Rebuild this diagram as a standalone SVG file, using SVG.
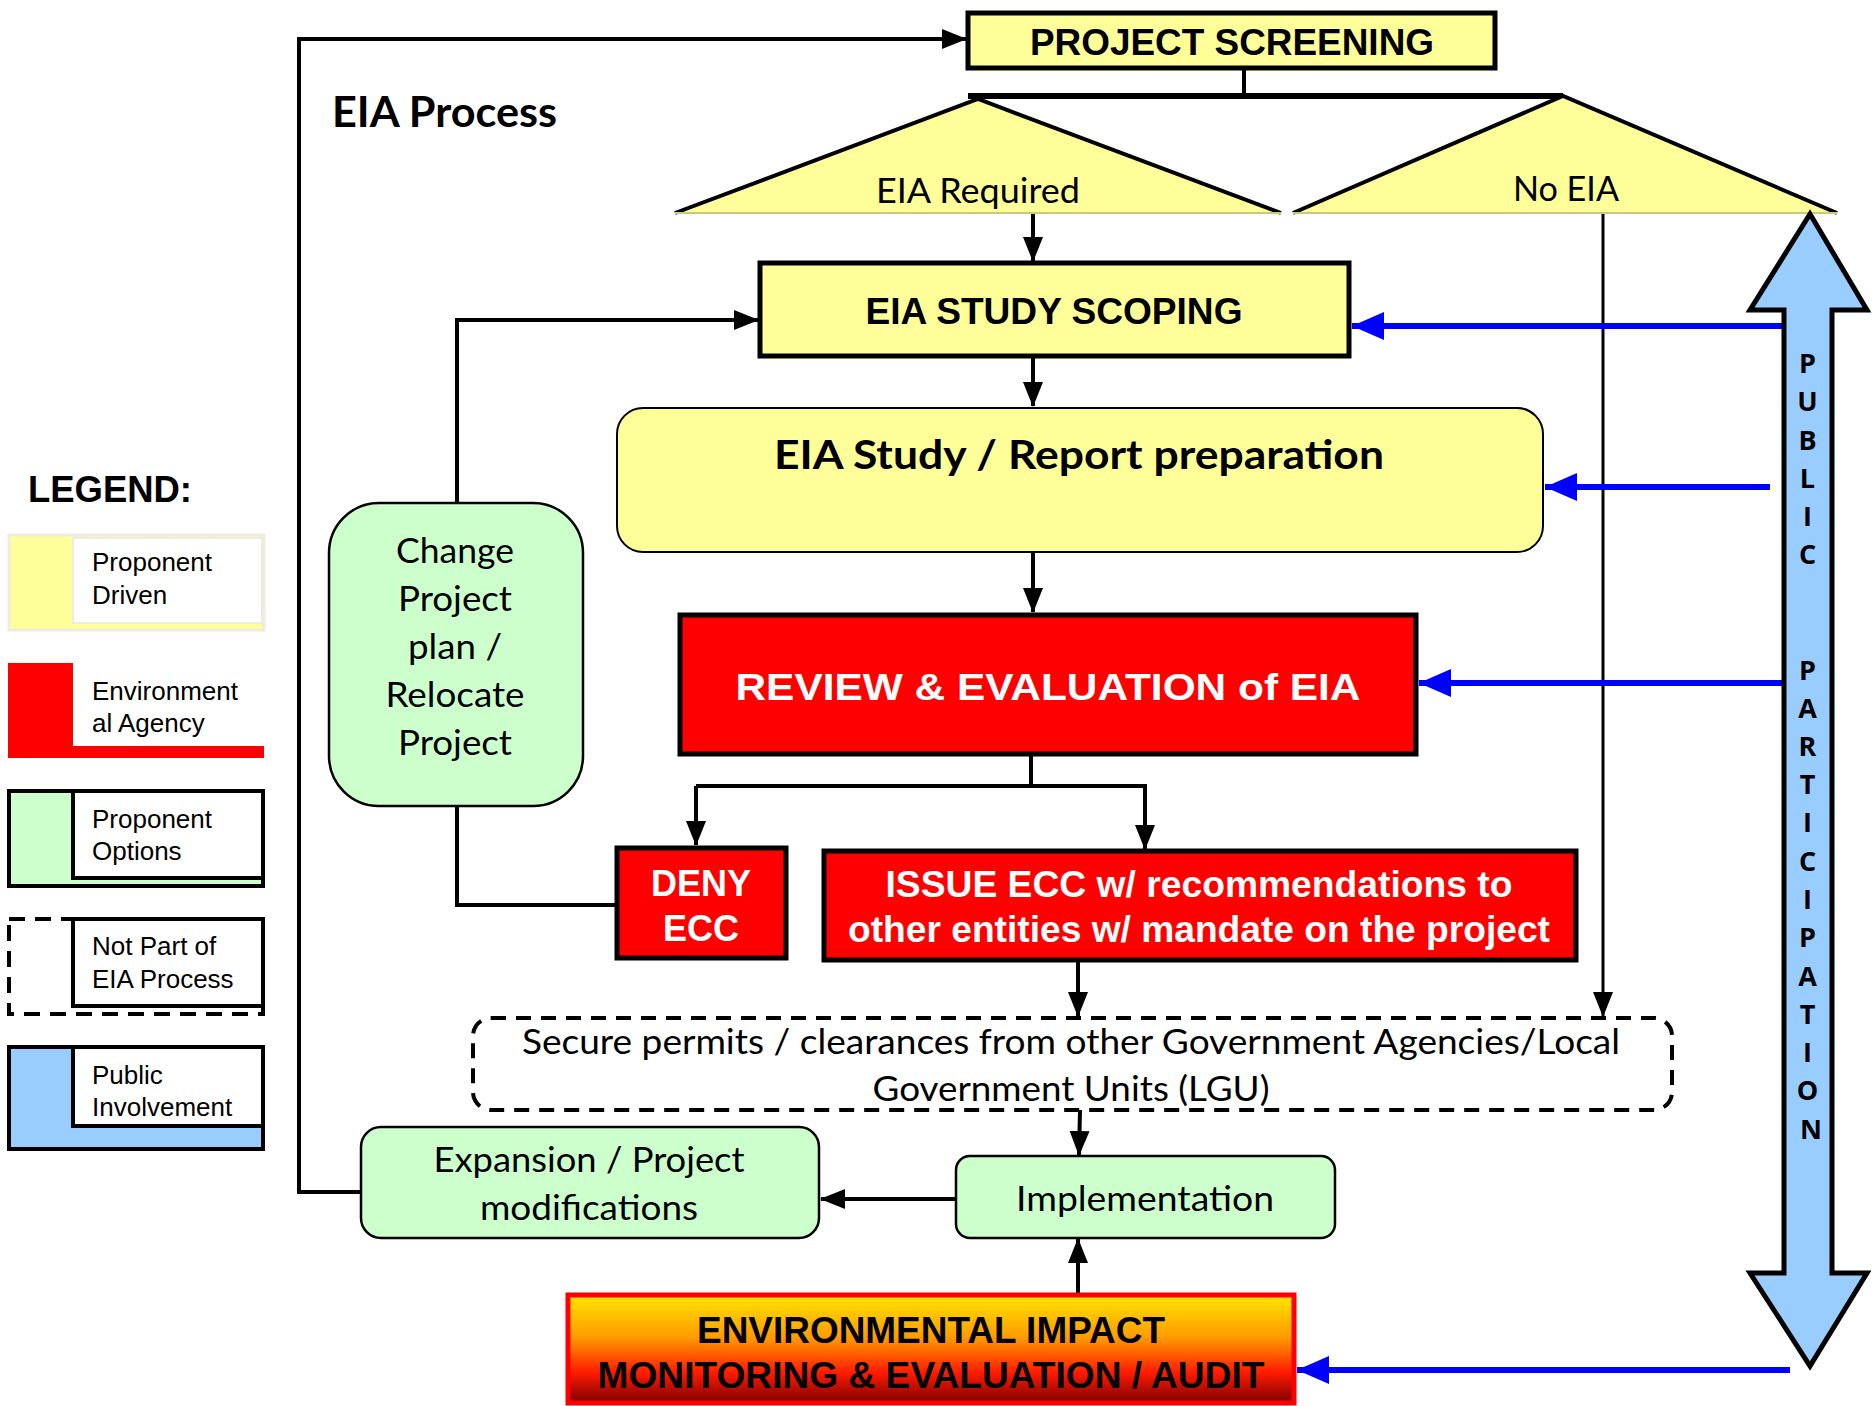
<svg xmlns="http://www.w3.org/2000/svg" width="1874" height="1406" viewBox="0 0 1874 1406">
<defs>
<style>
.ab{font-family:"Liberation Sans",Arial,sans-serif;font-weight:bold;font-size:36px;text-anchor:middle}
.wt{fill:#fff}
.cal{font-family:Lato,"Open Sans",sans-serif;font-size:35px;text-anchor:middle;fill:#000}
.calb{font-family:Lato,"Open Sans",sans-serif;font-weight:bold;fill:#000}
.lg{font-family:"Liberation Sans",Arial,sans-serif;font-size:26px;fill:#000}
.pp{font-family:"Open Sans","Noto Sans",sans-serif;font-weight:bold;font-size:27px;text-anchor:middle;fill:#000}
.conn{fill:none;stroke:#000;stroke-width:4}
.blue{fill:none;stroke:#0000FF;stroke-width:6}
.yel{fill:#FFFF99}
.grn{fill:#CCFFCC;stroke:#000;stroke-width:2.5}
.red{fill:#FF0000;stroke:#000;stroke-width:5}
</style>
<marker id="ah" markerUnits="userSpaceOnUse" markerWidth="26" markerHeight="22" refX="24" refY="11" orient="auto">
<path d="M0,1 L25,11 L0,21 z" fill="#000"/>
</marker>
<marker id="bh" markerUnits="userSpaceOnUse" markerWidth="34" markerHeight="32" refX="32" refY="16" orient="auto">
<path d="M0,2 L32,16 L0,30 z" fill="#0000FF"/>
</marker>
<linearGradient id="envg" x1="0" y1="0" x2="0" y2="1">
<stop offset="0" stop-color="#FFE600"/>
<stop offset="0.4" stop-color="#FF9900"/>
<stop offset="0.72" stop-color="#FF1A00"/>
<stop offset="1" stop-color="#7A0000"/>
</linearGradient>
</defs>
<rect width="1874" height="1406" fill="#fff"/>

<text x="332" y="127" class="calb" font-size="42" textLength="225" lengthAdjust="spacingAndGlyphs">EIA Process</text>

<!-- Legend -->
<g id="legend">
<text x="28" y="502" class="ab" style="text-anchor:start" textLength="164" lengthAdjust="spacingAndGlyphs">LEGEND:</text>
<g id="leg-proponent-driven">
<rect x="9" y="535" width="255" height="95" fill="#FFFF99" stroke="#EEECE1" stroke-width="3"/>
<rect x="73" y="538" width="189" height="85" fill="#fff" stroke="#EEECE1" stroke-width="2"/>
<text class="lg" x="92" y="571">Proponent</text>
<text class="lg" x="92" y="604">Driven</text>
</g>
<g id="leg-env-agency">
<rect x="8" y="663" width="256" height="95" fill="#FF0000"/>
<rect x="73" y="663" width="191" height="83" fill="#fff"/>
<text class="lg" x="92" y="700">Environment</text>
<text class="lg" x="92" y="732">al Agency</text>
</g>
<g id="leg-proponent-options">
<rect x="9" y="791" width="254" height="95" fill="#CCFFCC" stroke="#000" stroke-width="4"/>
<rect x="73" y="791" width="190" height="87" fill="#fff" stroke="#000" stroke-width="4"/>
<text class="lg" x="92" y="828">Proponent</text>
<text class="lg" x="92" y="860">Options</text>
</g>
<g id="leg-not-part">
<rect x="9" y="919" width="254" height="95" fill="#fff" stroke="#000" stroke-width="4" stroke-dasharray="16 10"/>
<rect x="73" y="919" width="190" height="87" fill="#fff" stroke="#000" stroke-width="4"/>
<text class="lg" x="92" y="955">Not Part of</text>
<text class="lg" x="92" y="988">EIA Process</text>
</g>
<g id="leg-public">
<rect x="9" y="1047" width="254" height="102" fill="#99CCFF" stroke="#000" stroke-width="4"/>
<rect x="73" y="1047" width="190" height="79" fill="#fff" stroke="#000" stroke-width="4"/>
<text class="lg" x="92" y="1084">Public</text>
<text class="lg" x="92" y="1116">Involvement</text>
</g>
</g>

<!-- Connectors -->
<g id="connectors">
<polyline class="conn" points="361,1192 299,1192 299,39 966,39" marker-end="url(#ah)"/>
<line class="conn" x1="1244" y1="68" x2="1244" y2="96"/>
<line x1="968" y1="96" x2="1563" y2="96" stroke="#000" stroke-width="6"/>
<line class="conn" x1="1033" y1="213" x2="1033" y2="261" marker-end="url(#ah)"/>
<line class="conn" x1="1033" y1="357" x2="1033" y2="406" marker-end="url(#ah)"/>
<line class="conn" x1="1033" y1="552" x2="1033" y2="612" marker-end="url(#ah)"/>
<line class="conn" x1="1031" y1="755" x2="1031" y2="786"/>
<line class="conn" x1="696" y1="786" x2="1147" y2="786"/>
<line class="conn" x1="696" y1="786" x2="696" y2="845" marker-end="url(#ah)"/>
<line class="conn" x1="1145" y1="784" x2="1145" y2="849" marker-end="url(#ah)"/>
<polyline class="conn" points="457,503 457,320 758,320" marker-end="url(#ah)"/>
<polyline class="conn" points="457,806 457,905 616,905"/>
<line x1="1603" y1="213" x2="1603" y2="1016" stroke="#000" stroke-width="3" marker-end="url(#ah)"/>
<line class="conn" x1="1078" y1="960" x2="1078" y2="1016" marker-end="url(#ah)"/>
<line class="conn" x1="1080" y1="1110" x2="1079" y2="1155" marker-end="url(#ah)"/>
<line class="conn" x1="956" y1="1199" x2="821" y2="1199" marker-end="url(#ah)"/>
<line class="conn" x1="1078" y1="1293" x2="1078" y2="1239" marker-end="url(#ah)"/>
<line class="blue" x1="1783" y1="326" x2="1352" y2="326" marker-end="url(#bh)"/>
<line class="blue" x1="1770" y1="487" x2="1545" y2="487" marker-end="url(#bh)"/>
<line class="blue" x1="1783" y1="683" x2="1419" y2="683" marker-end="url(#bh)"/>
<line class="blue" x1="1790" y1="1370" x2="1297" y2="1370" marker-end="url(#bh)"/>
</g>

<g id="project-screening">
<rect x="968" y="13" width="527" height="55" class="yel" stroke="#000" stroke-width="5"/>
<text class="ab" x="1232" y="55" textLength="404" lengthAdjust="spacingAndGlyphs">PROJECT SCREENING</text>
</g>

<g id="eia-required">
<path d="M675,213 L978,99 L1281,213" fill="#FFFF99" stroke="#000" stroke-width="4"/>
<line x1="675" y1="213" x2="1281" y2="213" stroke="#C8C880" stroke-width="2"/>
<text class="cal" x="978" y="203" font-size="33" textLength="204" lengthAdjust="spacingAndGlyphs">EIA Required</text>
</g>

<g id="no-eia">
<path d="M1293,213 L1563,96 L1837,213" fill="#FFFF99" stroke="#000" stroke-width="4"/>
<line x1="1293" y1="213" x2="1837" y2="213" stroke="#C8C880" stroke-width="2"/>
<text class="cal" x="1566" y="201" font-size="33" textLength="106" lengthAdjust="spacingAndGlyphs">No EIA</text>
</g>

<g id="eia-study-scoping">
<rect x="760" y="263" width="589" height="93" class="yel" stroke="#000" stroke-width="5"/>
<text class="ab" x="1054" y="324" textLength="377" lengthAdjust="spacingAndGlyphs">EIA STUDY SCOPING</text>
</g>

<g id="eia-study-report">
<rect x="617" y="408" width="926" height="144" rx="26" class="yel" stroke="#000" stroke-width="2"/>
<text class="calb" x="1079" y="469" font-size="40" text-anchor="middle" textLength="610" lengthAdjust="spacingAndGlyphs">EIA Study / Report preparation</text>
</g>

<g id="review-evaluation">
<rect x="680" y="615" width="736" height="139" class="red"/>
<text class="ab wt" x="1048" y="700" font-size="42" textLength="625" lengthAdjust="spacingAndGlyphs">REVIEW &amp; EVALUATION of EIA</text>
</g>

<g id="change-project">
<rect x="329" y="503" width="254" height="303" rx="50" class="grn"/>
<text class="cal" x="455" y="563" textLength="118" lengthAdjust="spacingAndGlyphs">Change</text>
<text class="cal" x="455" y="611" textLength="114" lengthAdjust="spacingAndGlyphs">Project</text>
<text class="cal" x="455" y="659" textLength="94" lengthAdjust="spacingAndGlyphs">plan /</text>
<text class="cal" x="455" y="707" textLength="139" lengthAdjust="spacingAndGlyphs">Relocate</text>
<text class="cal" x="455" y="755" textLength="114" lengthAdjust="spacingAndGlyphs">Project</text>
</g>

<g id="deny-ecc">
<rect x="617" y="848" width="169" height="110" class="red"/>
<text class="ab wt" x="701" y="896">DENY</text>
<text class="ab wt" x="701" y="941">ECC</text>
</g>

<g id="issue-ecc">
<rect x="824" y="851" width="752" height="109" class="red"/>
<text class="ab wt" x="1199" y="897" textLength="627" lengthAdjust="spacingAndGlyphs">ISSUE ECC w/ recommendations to</text>
<text class="ab wt" x="1199" y="942" textLength="702" lengthAdjust="spacingAndGlyphs">other entities w/ mandate on the project</text>
</g>

<g id="secure-permits">
<rect x="473" y="1018" width="1199" height="92" rx="18" fill="#fff" stroke="#000" stroke-width="4" stroke-dasharray="15 10"/>
<text class="cal" x="1071" y="1054" font-size="33" textLength="1098" lengthAdjust="spacingAndGlyphs">Secure permits / clearances from other Government Agencies/Local</text>
<text class="cal" x="1071" y="1101" font-size="33" textLength="397" lengthAdjust="spacingAndGlyphs">Government Units (LGU)</text>
</g>

<g id="implementation">
<rect x="956" y="1156" width="379" height="82" rx="14" class="grn"/>
<text class="cal" x="1145" y="1211" textLength="258" lengthAdjust="spacingAndGlyphs">Implementation</text>
</g>

<g id="expansion">
<rect x="361" y="1127" width="458" height="111" rx="20" class="grn"/>
<text class="cal" x="589" y="1172" textLength="311" lengthAdjust="spacingAndGlyphs">Expansion / Project</text>
<text class="cal" x="589" y="1220" textLength="218" lengthAdjust="spacingAndGlyphs">modifications</text>
</g>

<g id="env-monitoring">
<rect x="568" y="1295" width="726" height="108" fill="url(#envg)" stroke="#FF0000" stroke-width="5"/>
<text class="ab" x="931" y="1343" textLength="468" lengthAdjust="spacingAndGlyphs">ENVIRONMENTAL IMPACT</text>
<text class="ab" x="931" y="1388" textLength="667" lengthAdjust="spacingAndGlyphs">MONITORING &amp; EVALUATION / AUDIT</text>
</g>

<g id="public-participation">
<polygon points="1810,214 1867,310 1832,310 1832,1273 1867,1273 1810,1366 1750,1273 1784,1273 1784,310 1750,310" fill="#99CCFF" stroke="#000" stroke-width="5" stroke-linejoin="miter"/>
<text class="pp">
<tspan x="1811" y="373">P</tspan>
<tspan x="1811" y="411">U</tspan>
<tspan x="1811" y="450">B</tspan>
<tspan x="1811" y="488">L</tspan>
<tspan x="1811" y="526">I</tspan>
<tspan x="1811" y="564">C</tspan>
<tspan x="1811" y="680">P</tspan>
<tspan x="1811" y="718">A</tspan>
<tspan x="1811" y="756">R</tspan>
<tspan x="1811" y="794">T</tspan>
<tspan x="1811" y="832">I</tspan>
<tspan x="1811" y="871">C</tspan>
<tspan x="1811" y="909">I</tspan>
<tspan x="1811" y="947">P</tspan>
<tspan x="1811" y="986">A</tspan>
<tspan x="1811" y="1024">T</tspan>
<tspan x="1811" y="1062">I</tspan>
<tspan x="1811" y="1100">O</tspan>
<tspan x="1811" y="1139">N</tspan>
</text>
</g>
</svg>
